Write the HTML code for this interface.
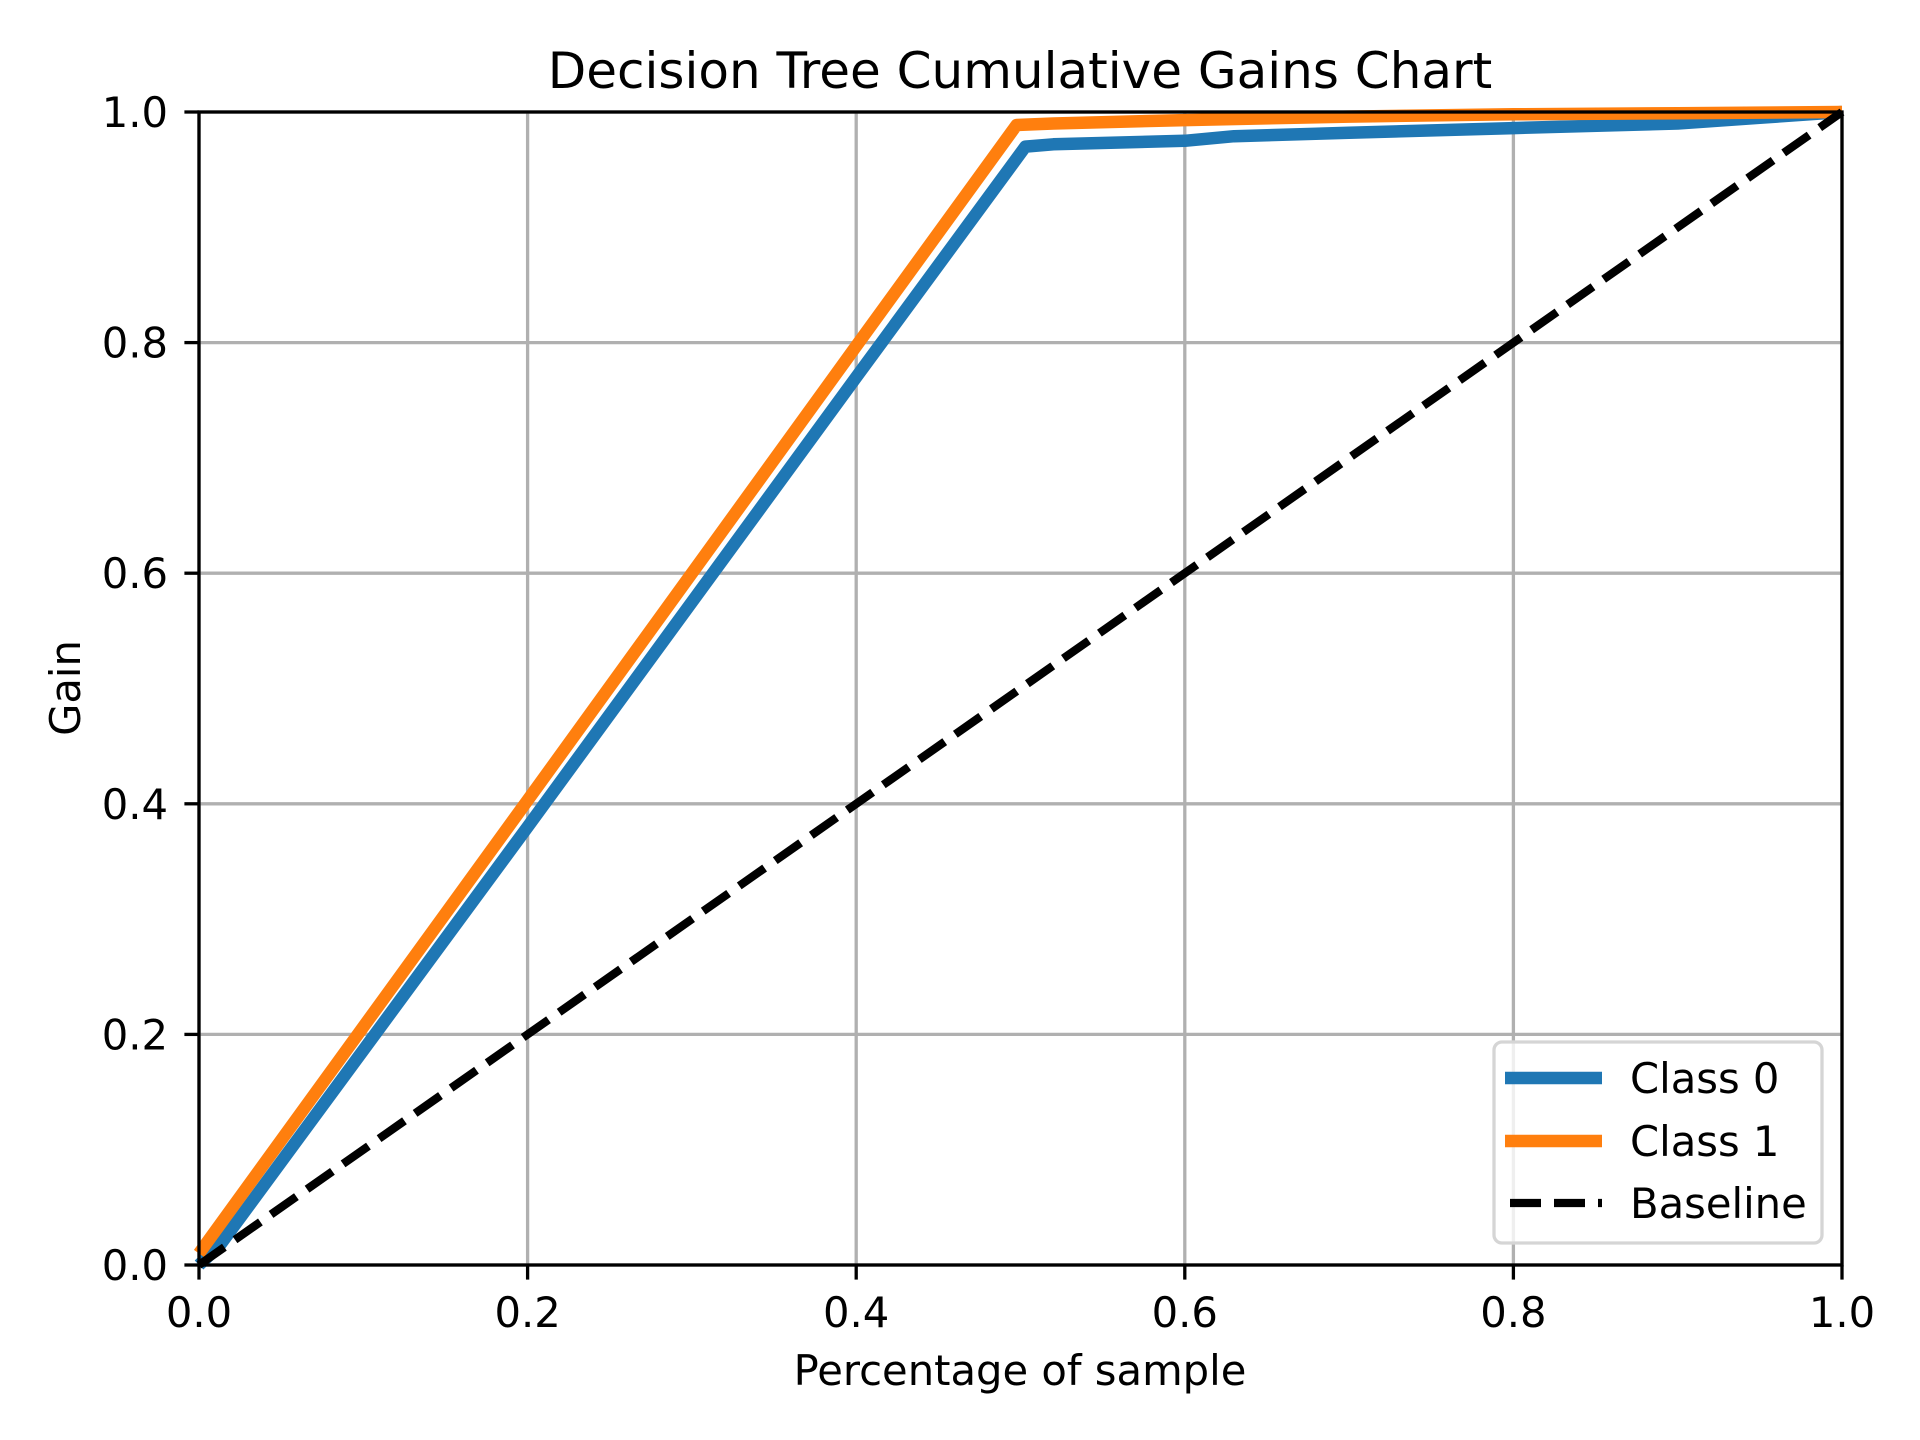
<!DOCTYPE html>
<html><head><meta charset="utf-8"><style>
html,body{margin:0;padding:0;background:#fff;}
svg{display:block;font-family:"DejaVu Sans","Liberation Sans",sans-serif;}
</style></head><body>
<svg id="chart" width="1920" height="1440" viewBox="0 0 1920 1440" xmlns="http://www.w3.org/2000/svg">
<rect width="1920" height="1440" fill="#fff"/>
<g id="grid"></g>
<g id="series"></g>
<g id="axes"></g>
<text x="1020" y="88" font-size="50" text-anchor="middle">Decision Tree Cumulative Gains Chart</text>
<text x="1020" y="1385" font-size="41.7" text-anchor="middle">Percentage of sample</text>
<text x="0" y="0" font-size="41.7" text-anchor="middle" transform="translate(80,688) rotate(-90)">Gain</text>
<g>
<rect x="1494" y="1042" width="328" height="201" rx="8" fill="#fff" fill-opacity="0.8" stroke="#d5d5d5" stroke-width="3.3"/>
<line x1="1505" y1="1078" x2="1602" y2="1078" stroke="#1f77b4" stroke-width="12.5"/>
<text x="1630" y="1093" font-size="41.7">Class 0</text>
<line x1="1505" y1="1141" x2="1602" y2="1141" stroke="#ff7f0e" stroke-width="12.5"/>
<text x="1630" y="1156" font-size="41.7">Class 1</text>
<line x1="1510" y1="1203" x2="1602" y2="1203" stroke="#000" stroke-width="8.3" stroke-dasharray="31,13"/>
<text x="1630" y="1218" font-size="41.7">Baseline</text>
</g>
</svg>
<script>
const xTicks = [0, 0.2, 0.4, 0.6, 0.8, 1.0];
const yTicks = [0, 0.2, 0.4, 0.6, 0.8, 1.0];
const xTickLabels = ["0.0", "0.2", "0.4", "0.6", "0.8", "1.0"];
const yTickLabels = ["0.0", "0.2", "0.4", "0.6", "0.8", "1.0"];
const class0X = [0, 0.0126, 0.2, 0.4, 0.503, 0.52, 0.6, 0.63, 0.7, 0.8, 0.9, 0.95, 1.0];
const class0Y = [0, 0.017, 0.38, 0.77, 0.970, 0.972, 0.975, 0.979, 0.982, 0.986, 0.990, 0.995, 1.0];
const class1X = [0, 0.2, 0.4, 0.4976, 0.52, 0.6, 0.7, 0.8, 0.9, 1.0];
const class1Y = [0.01, 0.403, 0.797, 0.9887, 0.990, 0.993, 0.996, 0.998, 0.999, 1.0];
const baselineX = [0, 1];
const baselineY = [0, 1];

const L = 199, R = 1842, T = 112, B = 1265;
const NS = "http://www.w3.org/2000/svg";
function sx(v){ return L + v * (R - L); }
function sy(v){ return B - v * (B - T); }
function mk(tag, attrs){ const e = document.createElementNS(NS, tag); for (const k in attrs) e.setAttribute(k, attrs[k]); return e; }

const grid = document.getElementById('grid');
const series = document.getElementById('series');
const axes = document.getElementById('axes');

xTicks.forEach((t, i) => {
  const g = mk('line', {x1: sx(t), x2: sx(t), y1: T, y2: B, stroke: '#b0b0b0', 'stroke-width': 3.3});
  
  
  grid.appendChild(g);
  const tk = mk('line', {x1: sx(t), x2: sx(t), y1: B, y2: B + 14.6, stroke: '#000', 'stroke-width': 3.3});
  
  
  axes.appendChild(tk);
  const lb = mk('text', {x: sx(t), y: 1327, 'font-size': 41.7, 'text-anchor': 'middle'});
  lb.textContent = xTickLabels[i];
  
  
  axes.appendChild(lb);
});
yTicks.forEach((t, i) => {
  const g = mk('line', {x1: L, x2: R, y1: sy(t), y2: sy(t), stroke: '#b0b0b0', 'stroke-width': 3.3});
  
  
  grid.appendChild(g);
  const tk = mk('line', {x1: L - 14.6, x2: L, y1: sy(t), y2: sy(t), stroke: '#000', 'stroke-width': 3.3});
  
  
  axes.appendChild(tk);
  const lb = mk('text', {x: 168, y: sy(t) + 15, 'font-size': 41.7, 'text-anchor': 'end'});
  lb.textContent = yTickLabels[i];
  
  
  axes.appendChild(lb);
});

function pts(xs, ys){ return xs.map((x, i) => sx(x).toFixed(1) + ',' + sy(ys[i]).toFixed(1)).join(' '); }
const c0 = mk('polyline', {points: pts(class0X, class0Y), fill: 'none', stroke: '#1f77b4', 'stroke-width': 12.5, 'stroke-linejoin': 'round'});


series.appendChild(c0);
const c1 = mk('polyline', {points: pts(class1X, class1Y), fill: 'none', stroke: '#ff7f0e', 'stroke-width': 12.5, 'stroke-linejoin': 'round'});


series.appendChild(c1);
const bl = mk('polyline', {points: pts(baselineX, baselineY), fill: 'none', stroke: '#000', 'stroke-width': 8.3, 'stroke-dasharray': '31,13'});


series.appendChild(bl);

const frame = mk('rect', {x: L, y: T, width: R - L, height: B - T, fill: 'none', stroke: '#000', 'stroke-width': 3.3});


axes.appendChild(frame);
</script>
</body></html>
